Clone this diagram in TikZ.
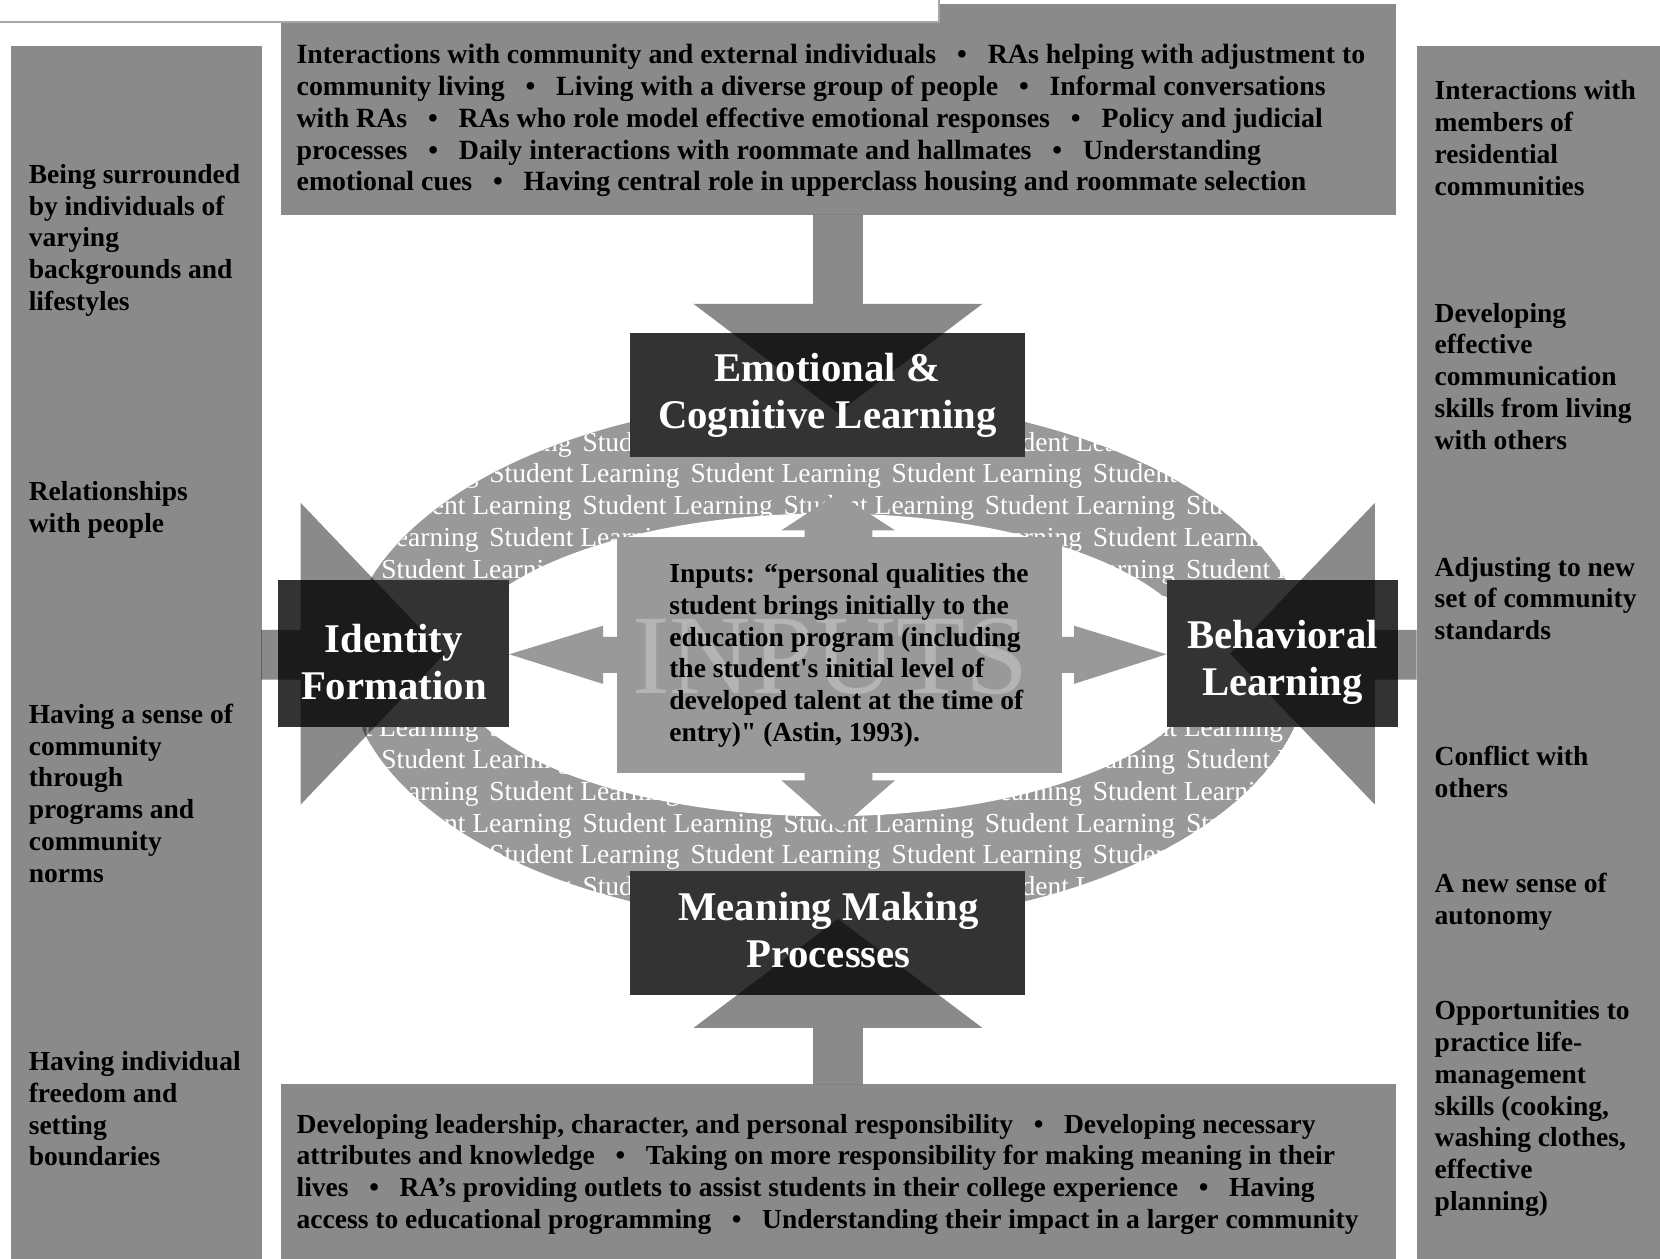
\documentclass[tikz,border=0pt]{standalone}
\usepackage{fontspec}
\setmainfont{Liberation Serif}
\definecolor{colgray}{HTML}{8A8A8A}
\definecolor{ringgray}{HTML}{999999}
\definecolor{wmgray}{HTML}{B4B4B4}
\definecolor{boxdark}{HTML}{333333}
\newcommand\bul{\hspace{0.75em}\textbullet\hspace{0.75em}}
\newcommand\ringunit{\makebox[190pt][l]{Student Learning}}
\newcommand\ringrow{\ringunit\ringunit\ringunit\ringunit\ringunit\ringunit\ringunit}
\begin{document}
\begin{tikzpicture}[x=1pt,y=-1pt,
  colbox/.style={fill=colgray,draw=none,inner sep=0pt,anchor=north west},
  txt/.style={font=\bfseries\fontsize{26}{30}\selectfont,align=left,inner sep=0pt,anchor=north west,text=black},
  widetxt/.style={txt,font=\bfseries\fontsize{26.3}{30}\selectfont},
  darkbox/.style={fill=boxdark,draw=none,inner sep=0pt},
  darklabel/.style={text=white,font=\bfseries\fontsize{38.5}{45}\selectfont,align=center,inner sep=0pt},
  bigarrow/.style={fill=black,fill opacity=0.46,draw=none},
  inarrow/.style={fill=ringgray,draw=none},
  ringtxt/.style={anchor=base west,inner sep=0pt,text=white,font=\fontsize{26}{30}\selectfont}]
\useasboundingbox (0,0) rectangle (1568,1189);
\clip (0,0) rectangle (1568,1189);
\fill[white] (0,0) rectangle (1568,1189);

% outer columns and boxes
\node[colbox,minimum width=237pt,minimum height=1160pt] (leftcol) at (10,43) {};
\node[colbox,minimum width=240pt,minimum height=1160pt] (rightcol) at (1338,43) {};
\node[colbox,minimum width=1053pt,minimum height=199pt] (topbox) at (265,4) {};
\node[colbox,minimum width=1053pt,minimum height=180pt] (botbox) at (265,1024) {};

% title box (cut off)
\draw[fill=white,draw=gray!70,line width=1.5pt] (-10,-30) rectangle (887,21);

% ring with text
\begin{scope}
  \clip (782,625) ellipse [x radius=455pt, y radius=248pt];
  \fill[ringgray] (782,625) ellipse [x radius=455pt, y radius=248pt];
  \foreach \k in {0,...,14} {
    \pgfmathsetmacro\yy{426+30*\k}
    \pgfmathsetmacro\xx{ifthenelse(mod(\k,2)==1,82,170)}
    \node[ringtxt] (ring\k) at (\xx,\yy) {\ringrow};
  }
\end{scope}
\fill[white] (782,628) ellipse [x radius=355pt, y radius=143pt];

% inputs box and its arrows
\node[fill=ringgray,draw=none,inner sep=0pt,anchor=north west,minimum width=420pt,minimum height=223pt] (inputs) at (583,507) {};
\fill[inarrow] (583,601.5) -- (569.6,601.5) -- (569.6,591) -- (481,618) -- (569.6,646) -- (569.6,635.6) -- (583,635.6) -- cycle;
\fill[inarrow] (1003,601.5) -- (1014.5,601.5) -- (1014.5,591) -- (1102,618) -- (1014.5,646) -- (1014.5,635.6) -- (1003,635.6) -- cycle;
\fill[inarrow] (760,507) -- (760,501) -- (738,501) -- (791.5,466) -- (845.5,501) -- (824,501) -- (824,507) -- cycle;
\fill[inarrow] (760,730) -- (760,737) -- (738,737) -- (791.5,784) -- (845.5,737) -- (824,737) -- (824,730) -- cycle;
\node[anchor=base,inner sep=0pt,text=wmgray,font=\fontsize{107}{110}\selectfont] (wm) at (784.5,655) {INPUTS};
\node[txt] (inputstxt) at (632,529) {\strut Inputs: “personal qualities the\\student brings initially to the\\education program (including\\the student\textquotesingle s initial level of\\developed talent at the time of\\entry)\textquotedbl{} (Astin, 1993).};

% dark boxes
\node[darkbox,minimum width=373pt,minimum height=117pt] (emo) at (781.5,373.5) {};
\node[darkbox,minimum width=218pt,minimum height=139pt] (ident) at (372,617.5) {};
\node[darkbox,minimum width=218.6pt,minimum height=139pt] (behav) at (1211.3,617.5) {};
\node[darkbox,minimum width=373pt,minimum height=117pt] (mean) at (781.5,881.5) {};

% big translucent arrows
\fill[bigarrow] (768,203) -- (815,203) -- (815,287) -- (928,287) -- (791.5,390) -- (655,287) -- (768,287) -- cycle;
\fill[bigarrow] (768,1024) -- (815,1024) -- (815,971) -- (928,971) -- (791.5,868) -- (655,971) -- (768,971) -- cycle;
\fill[bigarrow] (247,595) -- (284,595) -- (284,475) -- (420,617.5) -- (284,760) -- (284,642) -- (247,642) -- cycle;
\fill[bigarrow] (1338,595) -- (1298.7,595) -- (1298.7,475) -- (1162,617.5) -- (1298.7,760) -- (1298.7,642) -- (1338,642) -- cycle;

% dark box labels
\node[darklabel] (emolab) at (781.5,373.5) {Emotional \&\\Cognitive Learning};
\node[darklabel] (identlab) at (372,625.5) {Identity\\Formation};
\node[darklabel] (behavlab) at (1211.5,625.5) {Behavioral\\Learning};
\node[darklabel] (meanlab) at (782.5,878.5) {Meaning Making\\Processes};

% top and bottom box text
\node[widetxt] (toptxt) at (280,39) {\strut Interactions with community and external individuals\bul RAs helping with adjustment to\\community living\bul Living with a diverse group of people\bul Informal conversations\\with RAs\bul RAs who role model effective emotional responses\bul Policy and judicial\\processes\bul Daily interactions with roommate and hallmates\bul Understanding\\emotional cues\bul Having central role in upperclass housing and roommate selection};
\node[txt] (bottxt) at (280,1049) {\strut Developing leadership, character, and personal responsibility\bul Developing necessary\\attributes and knowledge\bul Taking on more responsibility for making meaning in their\\lives\bul RA’s providing outlets to assist students in their college experience\bul Having\\access to educational programming\bul Understanding their impact in a larger community};

% left column text
\node[txt] (l1) at (27,152) {\strut Being surrounded\\by individuals of\\varying\\backgrounds and\\lifestyles};
\node[txt] (l2) at (27,452) {\strut Relationships\\with people};
\node[txt] (l3) at (27,662) {\strut Having a sense of\\community\\through\\programs and\\community\\norms};
\node[txt] (l4) at (27,990) {\strut Having individual\\freedom and\\setting\\boundaries};

% right column text
\node[txt] (r1) at (1355,73) {\strut Interactions with\\members of\\residential\\communities};
\node[txt] (r2) at (1355,283) {\strut Developing\\effective\\communication\\skills from living\\with others};
\node[txt] (r3) at (1355,523) {\strut Adjusting to new\\set of community\\standards};
\node[txt] (r4) at (1355,702) {\strut Conflict with\\others};
\node[txt] (r5) at (1355,822) {\strut A new sense of\\autonomy};
\node[txt] (r6) at (1355,942) {\strut Opportunities to\\practice life-\\management\\skills (cooking,\\washing clothes,\\effective\\planning)};
\end{tikzpicture}
\end{document}
